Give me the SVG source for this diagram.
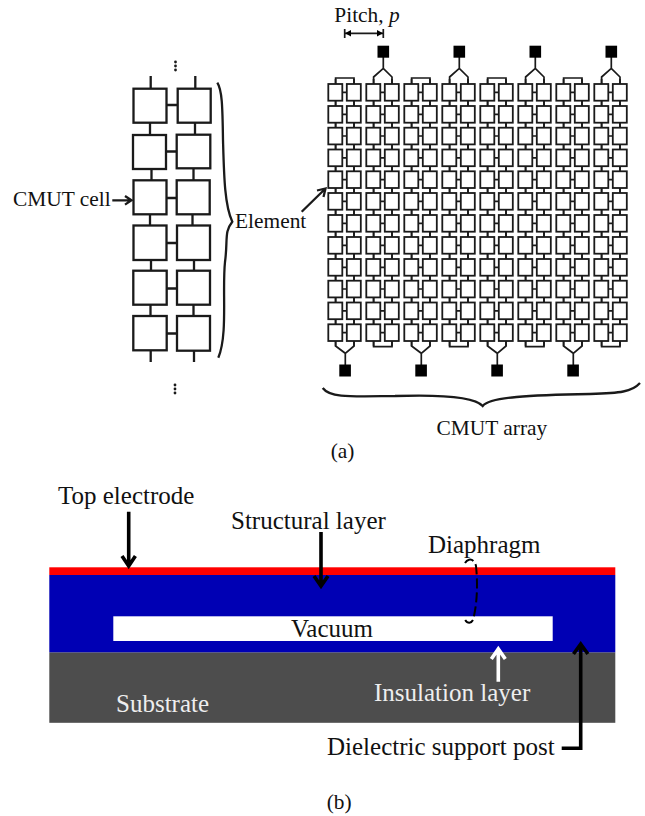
<svg xmlns="http://www.w3.org/2000/svg" xmlns:xlink="http://www.w3.org/1999/xlink" width="645" height="816" viewBox="0 0 645 816">
<style>
text{font-family:"Liberation Serif","Times New Roman",serif;fill:#111}
.s{font-size:21.4px}
.b{font-size:25px}
.w{fill:#eee}
.c{fill:#fff;stroke:#1a1a1a;stroke-width:1.8}
.C{fill:#fff;stroke:#1a1a1a;stroke-width:2.3}
.l{fill:none;stroke:#1a1a1a;stroke-width:1.7}
.L{fill:none;stroke:#1a1a1a;stroke-width:2.3}
.h{fill:none;stroke:#000;stroke-width:3.6}
.hw{fill:none;stroke:#fff;stroke-width:3.6}
.d{fill:#1a1a1a}
</style>
<defs>
<g id="pair">
<path class="l" d="M7.3 -5V0M25.7 -5V0M14 8.3H18.5M7.3 16.7V22M25.7 16.7V22"/>
<rect class="c" x="0" y="0" width="14" height="16.7"/>
<rect class="c" x="18.5" y="0" width="14" height="16.7"/>
</g>
<g id="padtop">
<path class="l" d="M7.3 84V77L17 68.3L25.7 77V84M17 68.3V57"/>
<rect x="11.2" y="45.7" width="11.6" height="12" fill="#000"/>
</g>
<g id="padbot">
<path class="l" d="M7.3 341V346L17 353.3L25.7 346V341M17 353.3V365"/>
<rect x="11" y="364.5" width="11.6" height="12" fill="#000"/>
</g>
<path id="ut" class="l" d="M7.3 84V78H25.7V84"/>
<path id="ub" class="l" d="M7.3 341V346.7H25.7V341"/>
<g id="col">
<use href="#pair" y="84"/><use href="#pair" y="106"/><use href="#pair" y="127.7"/><use href="#pair" y="149.5"/><use href="#pair" y="171.3"/><use href="#pair" y="193"/><use href="#pair" y="215"/><use href="#pair" y="237"/><use href="#pair" y="259"/><use href="#pair" y="280.7"/><use href="#pair" y="302.5"/><use href="#pair" y="324.3"/>
</g>
</defs>
<g id="connectors">
<path class="L" d="M150.7 76V89M195.3 76V89M150 122V135M195 122V135M151.5 169V181M193.5 168V180M150 214V226M192.5 214V226M151 260V271M194 260V271M150.5 305V316M193.5 305V316M150.7 350V362M194 350V362M166 105H178M166 151.5H177M166 198H177M166 243H177M166 288.5H177M166 333.5H177"/>
<path class="l" d="M431.3 116V121"/>
<path class="l" d="M344.7 33.3H383.3M344.7 29V38M383.3 29V38"/>
<path d="M345 33.3L351 30V36.6ZM383 33.3L377 30V36.6Z" fill="#000"/>
<path class="L" d="M112.3 200.3H131M125 196L131.5 200.3L125 204.6"/>
<path class="L" d="M301.7 211.7L325 189M317 190.5L325.5 188.5L323.5 197"/>
<path class="L" d="M217.3 82.7C222 90 222.5 105 223 140C224 175 224.5 205 232.3 221.7C224 232 228 240 225 262C222 290 228 335 218.3 357.7"/>
<path class="L" d="M322.7 388C330 398 350 396.5 395 396C440 394.5 475 397 482.7 406C490 397 530 395 590 394C620 393 632 392 640 383"/>
<g class="d"><circle cx="175.5" cy="62" r="1.4"/><circle cx="175.5" cy="66" r="1.4"/><circle cx="175.5" cy="70" r="1.4"/><circle cx="175" cy="385" r="1.4"/><circle cx="175" cy="389" r="1.4"/><circle cx="175" cy="393" r="1.4"/></g>
</g>
<g id="cell-grid">
<rect class="C" x="133.5" y="88.7" width="33" height="34"/><rect class="C" x="177.7" y="88.7" width="33" height="34"/>
<rect class="C" x="133" y="135" width="33" height="34"/><rect class="C" x="176.7" y="134.7" width="33.6" height="33.6"/>
<rect class="C" x="133.5" y="180.3" width="33" height="34"/><rect class="C" x="176.7" y="180.3" width="33" height="34"/>
<rect class="C" x="133.5" y="225.5" width="33" height="34.5"/><rect class="C" x="177" y="225.5" width="33" height="34.5"/>
<rect class="C" x="133.3" y="270.7" width="33.4" height="34"/><rect class="C" x="177" y="270.7" width="33" height="34"/>
<rect class="C" x="133.3" y="316" width="33.4" height="34.3"/><rect class="C" x="177" y="316" width="33" height="34.7"/>
</g>
<g id="array">
<use href="#col" x="328.3"/><use href="#ut" x="328.3"/><use href="#padbot" x="328.3"/>
<use href="#col" x="366.3"/><use href="#padtop" x="366.3"/><use href="#ub" x="366.3"/>
<use href="#col" x="404.3"/><use href="#ut" x="404.3"/><use href="#padbot" x="404.3"/>
<use href="#col" x="442.3"/><use href="#padtop" x="442.3"/><use href="#ub" x="442.3"/>
<use href="#col" x="480.3"/><use href="#ut" x="480.3"/><use href="#padbot" x="480.3"/>
<use href="#col" x="518.3"/><use href="#padtop" x="518.3"/><use href="#ub" x="518.3"/>
<use href="#col" x="556.3"/><use href="#ut" x="556.3"/><use href="#padbot" x="556.3"/>
<use href="#col" x="594.3"/><use href="#padtop" x="594.3"/><use href="#ub" x="594.3"/>
</g>
<g id="labels-a">
<text class="s" x="334.3" y="21.7">Pitch, <tspan font-style="italic">p</tspan></text>
<text class="s" x="13" y="206">CMUT cell</text>
<text class="s" x="235" y="228">Element</text>
<text class="s" x="436.5" y="435">CMUT array</text>
<text class="s" x="330.7" y="458.3">(a)</text>
</g>
<g id="cross-section">
<rect id="substrate" x="49.3" y="652.3" width="566" height="70.5" fill="#4d4d4d"/>
<rect id="structural-layer" x="49.3" y="575" width="566" height="77.3" fill="#0000b4"/>
<rect id="top-electrode" x="49.3" y="567.3" width="566" height="7.7" fill="#f00"/>
<rect id="vacuum" x="113.3" y="616.3" width="439.4" height="24.7" fill="#fff"/>
</g>
<g id="callouts">
<path class="h" d="M128.7 511.7V566M122 556L128.7 566L135.4 556"/>
<path class="h" d="M321 532V586M314 576L321 586L328 576"/>
<path class="hw" d="M498.3 681.7V649M491.3 659L498.3 649L505.3 659"/>
<path class="h" d="M561.7 748.3H580.7V644M573.5 654L580.7 644L587.9 654"/>
<path d="M465 563C468 558 474 558 476 566C478 585 477 605 473 620C471 624 466 624 464 617" fill="none" stroke="#000" stroke-width="2" stroke-dasharray="10 4"/>
</g>
<g id="labels-b">
<text class="b" x="58" y="504">Top electrode</text>
<text class="b" x="231" y="529">Structural layer</text>
<text class="b" x="428" y="553">Diaphragm</text>
<text class="b" x="291" y="636.5">Vacuum</text>
<text class="b w" x="116" y="711.5">Substrate</text>
<text class="b w" x="374" y="700.5">Insulation layer</text>
<text class="b" x="327" y="755">Dielectric support post</text>
<text class="s" x="326.7" y="809">(b)</text>
</g>
</svg>
